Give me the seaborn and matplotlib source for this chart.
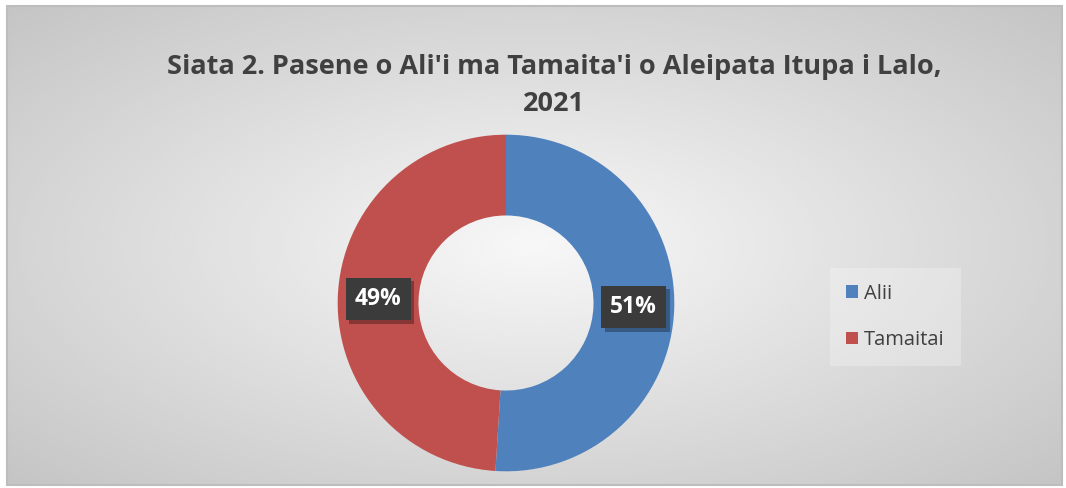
import matplotlib
matplotlib.use("Agg")
import matplotlib.pyplot as plt
import matplotlib.patheffects as pe
from matplotlib.patches import Rectangle
import numpy as np
import seaborn as sb

# Chart data
categories = ["Alii", "Tamaitai"]
shares = [51, 49]
colors = ["#4F81BD", "#C0504D"]
title = "Siata 2. Pasene o Ali'i ma Tamaita'i o Aleipata Itupa i Lalo,\n2021"

sb.set_style("white")
plt.rcParams["font.family"] = ["Open Sans", "DejaVu Sans"]

fig = plt.figure(figsize=(10.66, 4.88), dpi=100)
fig.patch.set_facecolor("white")

# radial grey gradient behind the chart area
bg = fig.add_axes([7 / 1066, 3 / 488, 1055 / 1066, 479 / 488])
yy, xx = np.mgrid[-1:1:300j, -1:1:600j]
rr = np.sqrt(xx ** 2 + yy ** 2) / np.sqrt(2)
bg.imshow(0.97 - 0.20 * rr, cmap="gray", vmin=0, vmax=1, aspect="auto",
          extent=[0, 1, 0, 1], interpolation="bicubic")
bg.set_axis_off()
fig.add_artist(Rectangle((7 / 1066, 3 / 488), 1055 / 1066, 479 / 488,
                         transform=fig.transFigure, fill=False,
                         edgecolor="#bdbdbd", lw=1.5))

# donut
ax = fig.add_axes([(506 - 170) / 1066, (488 - 303 - 170) / 488, 340 / 1066, 340 / 488])
ax.set_facecolor("none")
wedges, texts, autotexts = ax.pie(
    shares, colors=colors, startangle=90, counterclock=False,
    autopct="%d%%", pctdistance=0.76,
    wedgeprops=dict(width=0.48, edgecolor="none"),
    textprops=dict(color="white", fontsize=16.5, fontweight="bold"))
ax.set_aspect("equal")
ax.set_xlim(-1.01, 1.01)
ax.set_ylim(-1.01, 1.01)

for t in autotexts:
    t.set_bbox(dict(boxstyle="square,pad=0.4", facecolor="#3b3b3b", edgecolor="none"))
    t.get_bbox_patch().set_path_effects([
        pe.SimplePatchShadow(offset=(2.5, -2.5), shadow_rgbFace="black", alpha=0.3),
        pe.Normal()])

fig.text(0.52, 0.89, title, ha="center", va="top", fontsize=19.5,
         fontweight="bold", color="#404040", linespacing=1.55)

leg = fig.legend(wedges, categories, loc="center left",
                 bbox_to_anchor=(826 / 1066, (488 - 317) / 488),
                 frameon=True, fontsize=14.5, handlelength=0.6, handleheight=0.6,
                 labelspacing=1.3, borderpad=0.5, labelcolor="#404040",
                 handletextpad=0.3)
leg.get_frame().set_facecolor("white")
leg.get_frame().set_alpha(0.25)
leg.get_frame().set_edgecolor("none")
leg.get_frame().set_boxstyle("square")

plt.savefig("out.png", dpi=100)
